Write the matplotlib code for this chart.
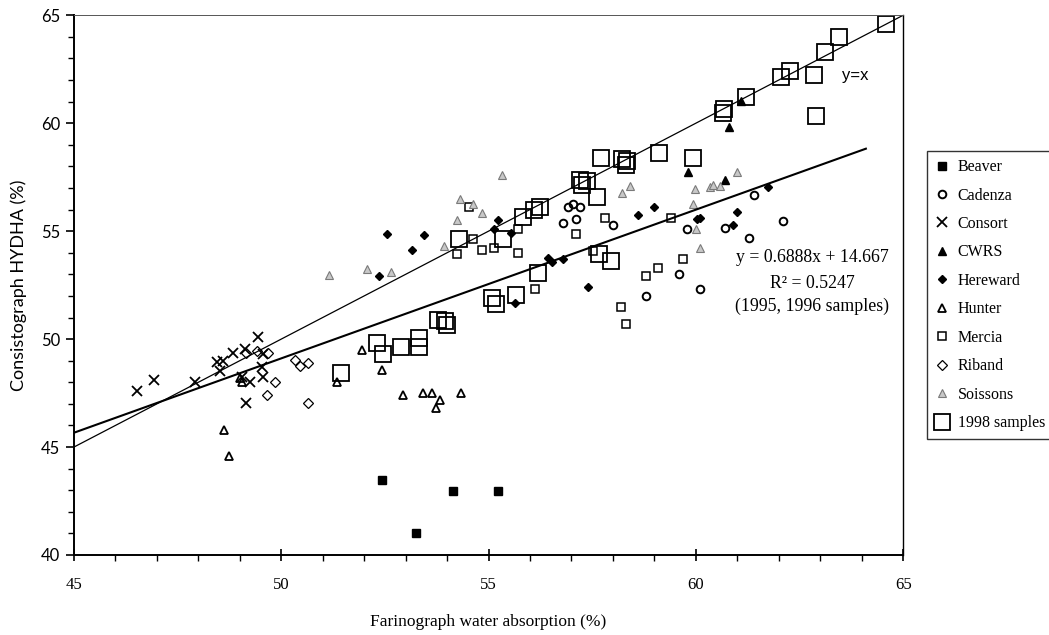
import numpy as np
import matplotlib.pyplot as plt
from matplotlib.ticker import MultipleLocator

# Farinograph water absorption (x) vs Consistograph HYDHA (y), by variety
beaver_x = [52.42, 54.14, 55.22, 53.25]
beaver_y = [43.47, 42.98, 42.98, 41.02]

cadenza_x = [56.91, 57.03, 57.21, 56.80, 57.11, 58.00, 59.78, 60.71, 61.39, 61.29, 62.10, 59.60, 58.80, 60.09]
cadenza_y = [56.10, 56.25, 56.10, 55.38, 55.54, 55.28, 55.08, 55.16, 56.67, 54.69, 55.48, 53.01, 51.99, 52.30]

consort_x = [46.51, 46.93, 47.93, 48.44, 48.59, 48.84, 49.13, 49.45, 48.52, 49.55, 49.53, 49.55, 49.25, 49.05, 49.14]
consort_y = [47.61, 48.10, 47.99, 48.92, 49.00, 49.37, 49.52, 50.11, 48.52, 49.29, 48.72, 48.25, 47.99, 48.25, 47.02]

cwrs_x = [60.81, 61.09, 59.80, 60.71]
cwrs_y = [59.83, 61.03, 57.75, 57.36]

hereward_x = [52.54, 53.44, 53.15, 52.35, 55.23, 55.13, 55.53, 55.63, 57.41, 56.43, 56.52, 56.80,
              58.60, 59.00, 60.03, 60.11, 60.99, 60.89, 61.74]
hereward_y = [54.89, 54.81, 54.14, 52.92, 55.53, 55.08, 54.91, 51.69, 52.39, 53.74, 53.58, 53.70,
              55.77, 56.10, 55.56, 55.59, 55.88, 55.28, 57.04]

hunter_x = [48.63, 48.74, 49.05, 49.00, 51.34, 51.94, 52.44, 52.94, 53.43, 53.63, 53.83, 53.73, 54.34]
hunter_y = [45.79, 44.58, 47.99, 48.20, 47.99, 49.49, 48.56, 47.41, 47.49, 47.49, 47.18, 46.79, 47.49]

mercia_x = [54.54, 54.63, 54.23, 54.84, 55.13, 55.72, 55.72, 57.11, 57.81, 57.51, 56.12, 58.80, 59.08,
            59.70, 59.40, 58.20, 58.31]
mercia_y = [56.13, 54.62, 53.94, 54.12, 54.24, 54.00, 55.12, 54.89, 55.59, 54.09, 52.30, 52.92, 53.30,
            53.69, 55.59, 51.47, 50.68]

riband_x = [50.33, 50.44, 50.65, 49.85, 49.65, 50.65, 49.41, 49.68, 49.15]
riband_y = [49.03, 48.75, 48.90, 47.99, 47.41, 47.02, 49.46, 49.34, 49.34]

soissons_x = [55.32, 54.32, 54.63, 54.84, 54.23, 53.93, 58.21, 58.41, 59.99, 60.34, 60.42, 60.57,
              60.99, 59.94, 60.01, 60.10, 51.15, 52.06, 52.64]
soissons_y = [57.59, 56.47, 56.27, 55.86, 55.50, 54.31, 56.75, 57.08, 56.93, 57.06, 57.13, 57.08,
              57.75, 56.26, 55.10, 54.21, 52.99, 53.23, 53.12]

s1998_x = [64.59, 63.46, 63.12, 62.26, 62.06, 62.85, 62.90, 61.21, 60.69, 60.66, 59.10, 59.94,
           57.71, 58.21, 58.33, 58.32, 57.21, 57.37, 57.25, 57.61, 56.24, 56.10, 55.84, 55.36,
           54.29, 57.67, 57.96, 56.20, 55.08, 55.18, 55.66, 53.79, 53.99, 53.95, 53.33, 53.33,
           52.88, 52.30, 52.45, 51.43]
s1998_y = [64.58, 64.00, 63.30, 62.42, 62.12, 62.22, 60.34, 61.22, 60.68, 60.45, 58.60, 58.37,
           58.37, 58.32, 58.25, 58.06, 57.39, 57.33, 57.13, 56.59, 56.10, 55.97, 55.66, 54.62,
           54.64, 53.94, 53.63, 53.04, 51.92, 51.62, 52.04, 50.90, 50.67, 50.85, 50.05, 49.63,
           49.62, 49.80, 49.31, 48.44]

# linear fit for the 1995/1996 samples
fit_slope = 0.6888
fit_icept = 14.667
fit_r2 = 0.5247
fit_range = [45.0, 64.1]

serif = "Liberation Serif"
sans = "Lato"

fig = plt.figure(figsize=(10.49, 6.35), dpi=100)
ax = fig.add_axes([0.0705, 0.126, 0.7905, 0.850])

k = dict(linestyle="none", color="black")
ax.plot(beaver_x, beaver_y, marker="s", ms=6, label="Beaver", **k)
ax.plot(cadenza_x, cadenza_y, marker="o", ms=5.5, mfc="none", mew=1.4, label="Cadenza", **k)
ax.plot(consort_x, consort_y, marker="x", ms=6.5, mew=1.3, label="Consort", **k)
ax.plot(cwrs_x, cwrs_y, marker="^", ms=6, label="CWRS", **k)
ax.plot(hereward_x, hereward_y, marker="D", ms=4.5, label="Hereward", **k)
ax.plot(hunter_x, hunter_y, marker="^", ms=6, mfc="none", mew=1.3, label="Hunter", **k)
ax.plot(mercia_x, mercia_y, marker="s", ms=6, mfc="none", mew=1.1, label="Mercia", **k)
ax.plot(riband_x, riband_y, marker="D", ms=4.8, mfc="none", mew=0.9, label="Riband", **k)
ax.plot(soissons_x, soissons_y, marker="^", ms=5.5, linestyle="none", mfc="#c8c8c8",
        mec="#7a7a7a", mew=0.8, label="Soissons")
ax.plot(s1998_x, s1998_y, marker="s", ms=11, mfc="none", mew=1.3, label="1998 samples", **k)

# y = x reference and regression line
ax.plot([45, 65], [45, 65], color="black", lw=0.9)
fx = np.array(fit_range)
ax.plot(fx, fit_slope * fx + fit_icept, color="black", lw=1.5)

ax.text(63.84, 62.22, "y=x", fontsize=12, family="Liberation Sans", ha="center", va="center")
eq_size = 12.8
ax.text(62.8, 53.80, f"y = {fit_slope}x + {fit_icept}", fontsize=eq_size, family=serif, ha="center", va="center")
ax.text(62.8, 52.59, f"R\u00b2 = {fit_r2}", fontsize=eq_size, family=serif, ha="center", va="center")
ax.text(62.8, 51.50, "(1995, 1996 samples)", fontsize=eq_size, family=serif, ha="center", va="center")

ax.set_xlim(45, 65)
ax.set_ylim(40, 65)
ax.xaxis.set_major_locator(MultipleLocator(5))
ax.xaxis.set_minor_locator(MultipleLocator(1))
ax.yaxis.set_major_locator(MultipleLocator(5))
ax.yaxis.set_minor_locator(MultipleLocator(1))
ax.tick_params(axis="x", which="major", direction="inout", length=8, width=1.2, pad=12, labelsize=12)
ax.tick_params(axis="x", which="minor", direction="out", length=4, width=1)
ax.tick_params(axis="y", which="major", direction="out", length=6, width=1.2, pad=4, labelsize=12)
ax.tick_params(axis="y", which="minor", direction="out", length=4, width=1)
for t in ax.get_xticklabels():
    t.set_family(serif)
for t in ax.get_yticklabels():
    t.set_family(sans)

ax.spines["left"].set_linewidth(1.4)
ax.spines["bottom"].set_linewidth(1.4)
ax.spines["right"].set_linewidth(1.0)
ax.spines["top"].set_linewidth(0.7)
ax.spines["top"].set_color("#555555")

ax.set_xlabel("Farinograph water absorption (%)", fontsize=12.5, family=serif, labelpad=15)
ax.set_ylabel("Consistograph HYDHA (%)", fontsize=13, family=sans, labelpad=10)

leg = fig.legend(loc="upper left", bbox_to_anchor=(0.884, 0.762, 0.15, 0.0), mode="expand",
                 prop={"family": serif, "size": 11.5}, frameon=True, fancybox=False,
                 edgecolor="black", handlelength=0.8, handletextpad=0.6, labelspacing=0.78,
                 borderpad=0.5, borderaxespad=0, numpoints=1)
leg.get_frame().set_linewidth(1.0)

fig.savefig("out.png", dpi=100)
